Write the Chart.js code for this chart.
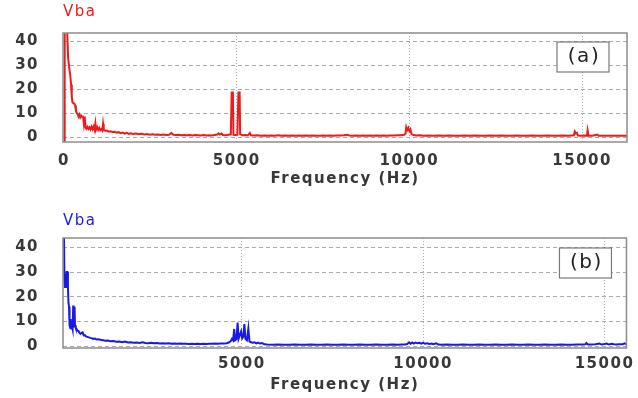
<!DOCTYPE html>
<html>
<head>
<meta charset="utf-8">
<script src="https://cdn.jsdelivr.net/npm/chart.js@4.4.1/dist/chart.umd.min.js"></script>
<style>
  html, body { margin: 0; padding: 0; background: #fff; }
  .panel { position: relative; width: 638px; height: 199px; }
</style>
</head>
<body>
<div class="panel"><canvas id="chart-a"></canvas></div>
<div class="panel"><canvas id="chart-b"></canvas></div>
<script>
// spectrum (a), frequency in Hz and amplitude
const freqA = [0, 20, 80, 95, 120, 150, 180, 205, 225, 245, 270, 300, 325, 345, 370, 395, 420, 445, 470, 500,
  525, 550, 575, 600, 625, 650, 680, 710, 740, 770, 800, 830, 860, 890, 910, 930, 960, 990, 1020, 1050,
  1080, 1110, 1130, 1150, 1190, 1240, 1290, 1340, 1400, 1460, 1520, 1580, 1640, 1700, 1760, 1820, 1880, 1940, 2000, 2080,
  2160, 2240, 2320, 2400, 2480, 2560, 2640, 2720, 2800, 2880, 2960, 3040, 3110, 3160, 3240, 3320, 3400, 3480, 3560, 3640,
  3720, 3800, 3880, 3960, 4040, 4120, 4200, 4280, 4360, 4440, 4470, 4510, 4560, 4600, 4680, 4760, 4830, 4855, 4890, 4905,
  4960, 5020, 5050, 5085, 5100, 5170, 5250, 5320, 5380, 5410, 5500, 5600, 5700, 5800, 5900, 6000, 6100, 6200, 6300, 6400,
  6500, 6600, 6700, 6800, 6900, 7000, 7100, 7200, 7300, 7400, 7500, 7600, 7700, 7800, 7900, 8000, 8100, 8200, 8260, 8350,
  8450, 8550, 8650, 8750, 8850, 8950, 9050, 9150, 9250, 9350, 9450, 9550, 9650, 9750, 9850, 9890, 9910, 9940, 9970, 10000,
  10030, 10060, 10120, 10200, 10300, 10400, 10550, 10700, 10850, 11000, 11150, 11300, 11450, 11600, 11750, 11900, 12050, 12200, 12350, 12500,
  12650, 12800, 12950, 13100, 13250, 13400, 13550, 13700, 13850, 14000, 14150, 14300, 14450, 14600, 14760, 14790, 14820, 14850, 14880, 14950,
  15050, 15140, 15160, 15185, 15300, 15440, 15480, 15600, 15800, 16000, 16300]
const ampA = [-2, 60, 60, 43, 33, 29, 26, 22, 17, 14.5, 14.2, 14, 13.2, 11, 10, 9.6, 8.6, 9.4, 8.2, 9,
  8.5, 8.9, 5.6, 8.6, 4, 3.5, 4.3, 3.4, 4.1, 3.2, 4.4, 3.3, 4.5, 3, 5.6, 3.2, 4.2, 3, 3.9, 2.9,
  3.4, 2.8, 5.6, 3.2, 2.7, 2.8, 2.3, 2.5, 2.2, 2.3, 1.9, 2.1, 1.7, 1.9, 1.5, 1.8, 1.4, 1.6, 1.3, 1.5,
  1.2, 1.4, 1.1, 1.3, 1.0, 1.2, 1.0, 1.1, 0.9, 1.1, 0.9, 1.0, 1.8, 1.0, 0.9, 1.0, 0.8, 0.9, 0.8, 0.9,
  0.7, 0.9, 0.8, 0.7, 0.9, 0.7, 0.8, 0.7, 0.9, 1.1, 1.6, 1.1, 1.5, 0.9, 0.8, 1.0, 1.2, 18.6, 18.6, 1.0,
  0.9, 1.0, 18.6, 18.6, 1.2, 0.8, 0.9, 0.7, 1.8, 0.8, 0.7, 0.8, 0.6, 0.7, 0.6, 0.7, 0.6, 0.8, 0.6, 0.7,
  0.6, 0.7, 0.6, 0.7, 0.6, 0.7, 0.6, 0.7, 0.6, 0.6, 0.7, 0.6, 0.7, 0.6, 0.7, 0.7, 0.8, 1.0, 0.7, 0.6,
  0.7, 0.6, 0.7, 0.6, 0.7, 0.6, 0.7, 0.6, 0.7, 0.6, 0.7, 0.7, 0.8, 0.8, 1.0, 1.6, 4.2, 3.0, 3.9, 2.6,
  3.3, 1.3, 0.9, 0.7, 0.8, 0.6, 0.7, 0.6, 0.7, 0.6, 0.7, 0.6, 0.6, 0.7, 0.6, 0.7, 0.6, 0.6, 0.7, 0.6,
  0.7, 0.6, 0.6, 0.7, 0.6, 0.6, 0.7, 0.6, 0.6, 0.7, 0.6, 0.6, 0.7, 0.6, 0.8, 2.4, 1.6, 1.8, 0.7, 0.6,
  0.7, 0.6, 2.9, 0.7, 0.6, 1.1, 0.6, 0.6, 0.6, 0.6, 0.6]

// spectrum (b)
const freqB = [60, 95, 110, 125, 150, 170, 190, 205, 220, 235, 250, 265, 280, 295, 315, 335, 350, 362, 375, 388,
  400, 420, 445, 470, 495, 520, 550, 580, 610, 640, 670, 700, 740, 780, 820, 860, 900, 950, 1000, 1060,
  1120, 1180, 1240, 1300, 1380, 1460, 1540, 1620, 1700, 1780, 1860, 1940, 2020, 2100, 2180, 2260, 2340, 2420, 2500, 2580,
  2660, 2740, 2820, 2900, 2980, 3060, 3140, 3220, 3300, 3380, 3460, 3540, 3620, 3700, 3780, 3860, 3940, 4020, 4100, 4180,
  4260, 4340, 4420, 4500, 4580, 4640, 4690, 4730, 4760, 4790, 4815, 4850, 4885, 4910, 4945, 4980, 5010, 5040, 5070, 5100,
  5140, 5180, 5210, 5250, 5300, 5350, 5400, 5450, 5500, 5560, 5620, 5700, 5850, 6000, 6150, 6300, 6450, 6600, 6750, 6900,
  7050, 7200, 7350, 7500, 7650, 7800, 7950, 8100, 8250, 8400, 8550, 8700, 8850, 9000, 9150, 9300, 9400, 9500, 9560, 9610,
  9650, 9700, 9740, 9790, 9840, 9890, 9950, 10000, 10050, 10110, 10170, 10230, 10280, 10360, 10420, 10500, 10650, 10800, 10950, 11100,
  11250, 11400, 11550, 11700, 11850, 12000, 12150, 12300, 12450, 12600, 12750, 12900, 13050, 13200, 13350, 13500, 13650, 13800, 13950, 14100,
  14250, 14400, 14470, 14500, 14540, 14650, 14750, 14860, 14920, 15000, 15060, 15120, 15200, 15260, 15320, 15400, 15500, 15550, 15606]
const ampB = [50, 46, 27, 24, 27, 30, 30, 24, 17.5, 16, 8.5, 7.5, 11, 7.2, 8.5, 7, 16.5, 9, 8, 16,
  8.5, 7.5, 7, 6.3, 6.2, 5.5, 5, 5.4, 5.6, 4.4, 4.5, 4.0, 3.8, 3.6, 3.4, 3.3, 3.0, 3.1, 2.7, 2.8,
  2.5, 2.4, 2.2, 2.3, 2.0, 2.1, 1.8, 1.9, 1.6, 1.9, 1.5, 1.6, 1.4, 1.5, 1.3, 1.6, 1.3, 1.2, 1.4, 1.2,
  1.3, 1.1, 1.2, 1.1, 1.2, 1.0, 1.1, 1.0, 1.1, 1.0, 1.0, 0.9, 1.0, 0.9, 1.0, 0.9, 1.0, 0.9, 1.0, 1.0,
  1.1, 1.0, 1.1, 1.1, 1.2, 1.5, 2.0, 3.0, 2.4, 7.0, 2.4, 2.8, 9.6, 3.0, 4.5, 6.0, 3.2, 3.8, 9.0, 3.0,
  2.4, 7.2, 2.0, 1.6, 1.4, 1.6, 1.2, 1.5, 1.1, 1.3, 0.8, 0.7, 0.6, 0.7, 0.6, 0.6, 0.7, 0.6, 0.6, 0.7,
  0.6, 0.6, 0.7, 0.6, 0.6, 0.7, 0.6, 0.6, 0.7, 0.6, 0.6, 0.7, 0.6, 0.6, 0.7, 0.6, 0.7, 0.7, 0.9, 1.6,
  1.0, 1.5, 1.1, 1.5, 1.2, 1.4, 1.1, 1.5, 1.0, 1.2, 0.9, 1.1, 0.8, 1.2, 0.7, 0.6, 0.7, 0.6, 0.6, 0.7,
  0.6, 0.6, 0.7, 0.6, 0.6, 0.7, 0.6, 0.6, 0.7, 0.6, 0.6, 0.7, 0.6, 0.6, 0.7, 0.6, 0.6, 0.7, 0.6, 0.6,
  0.7, 0.7, 0.8, 1.3, 0.7, 0.7, 0.8, 1.1, 0.7, 0.9, 1.1, 0.7, 1.0, 0.8, 0.7, 0.8, 0.8, 1.2, 0.8]

const tickFreqA = [0, 5000, 10000, 15000]
const tickFreqB = [5000, 10000, 15000]
const tickAmp = [0, 10, 20, 30, 40]

const FONT = "'DejaVu Sans', Verdana, sans-serif"

// frame round the plot, the signal name above it and the (a)/(b) tag
const framePlugin = {
  id: 'frame',
  beforeDraw(chart) {
    chart.ctx.letterSpacing = '1.5px'
  },
  afterDatasetsDraw(chart, args, opts) {
    const { ctx, chartArea: a } = chart
    ctx.save()
    ctx.strokeStyle = '#8c8c8c'
    ctx.lineWidth = 1.5
    ctx.strokeRect(a.left, a.top, a.right - a.left, a.bottom - a.top)

    ctx.font = '15px ' + FONT
    ctx.fillStyle = opts.nameColor
    ctx.textAlign = 'left'
    ctx.textBaseline = 'middle'
    ctx.fillText('Vba', a.left, opts.nameY)

    const bx = a.right - opts.tagRight - 52
    const by = a.top + opts.tagTop
    ctx.fillStyle = '#fff'
    ctx.fillRect(bx, by, 52, 30)
    ctx.strokeStyle = '#7a7a7a'
    ctx.lineWidth = 1.2
    ctx.strokeRect(bx, by, 52, 30)
    ctx.font = '20px ' + FONT
    ctx.fillStyle = '#222'
    ctx.textAlign = 'center'
    ctx.fillText(opts.tag, bx + 27, by + 15)
    ctx.restore()
  }
}

function makeChart(id, freq, amp, color, cfg) {
  const points = freq.map((f, i) => ({ x: f, y: amp[i] }))
  return new Chart(document.getElementById(id), {
    type: 'line',
    data: {
      datasets: [{
        data: points,
        borderColor: color,
        borderWidth: 2,
        pointRadius: 0,
        tension: 0
      }]
    },
    options: {
      responsive: true,
      maintainAspectRatio: false,
      animation: false,
      layout: { padding: { top: cfg.top, right: 11, left: 0, bottom: 0 } },
      plugins: {
        legend: { display: false },
        tooltip: { enabled: false },
        frame: cfg.frame
      },
      scales: {
        x: {
          type: 'linear',
          min: cfg.xMin,
          max: cfg.xMax,
          afterBuildTicks: (scale) => { scale.ticks = cfg.xTicks.map(v => ({ value: v })) },
          afterFit: (scale) => { scale.height = cfg.xHeight },
          ticks: {
            callback: v => String(v),
            color: '#383838',
            padding: cfg.xTickPad,
            maxRotation: 0,
            font: { family: FONT, size: 15, weight: 'bold' }
          },
          grid: { color: '#b0b0b0', lineWidth: 1, drawTicks: false },
          border: { display: false, dash: [1, 2] },
          title: {
            display: true,
            text: 'Frequency (Hz)',
            color: '#383838',
            font: { family: FONT, size: 15, weight: 'bold' },
            padding: { top: 0, bottom: cfg.titlePad }
          }
        },
        y: {
          min: cfg.yMin,
          max: cfg.yMax,
          afterBuildTicks: (scale) => { scale.ticks = tickAmp.map(v => ({ value: v })) },
          afterFit: (scale) => { scale.width = 63 },
          ticks: {
            callback: v => String(v),
            color: '#383838',
            padding: 24,
            font: { family: FONT, size: 15, weight: 'bold' }
          },
          grid: { color: '#ababab', lineWidth: 1, drawTicks: false },
          border: { display: false, dash: [4, 3] }
        }
      }
    },
    plugins: [framePlugin]
  })
}

makeChart('chart-a', freqA, ampA, '#ee1b1b', {
  top: 28, xHeight: 57, xMin: -29, xMax: 16300, xTicks: tickFreqA,
  yMin: -2, yMax: 43.4, xTickPad: 10, titlePad: 11,
  frame: { nameColor: '#ee1b1b', nameY: 12, tag: '(a)', tagRight: 18, tagTop: 9 }
})

makeChart('chart-b', freqB, ampB, '#1a1ae6', {
  top: 39, xHeight: 50, xMin: 69, xMax: 15606, xTicks: tickFreqB,
  yMin: -0.7, yMax: 43.8, xTickPad: 7, titlePad: 4,
  frame: { nameColor: '#1a1ae6', nameY: 22, tag: '(b)', tagRight: 15, tagTop: 10 }
})
</script>
</body>
</html>
